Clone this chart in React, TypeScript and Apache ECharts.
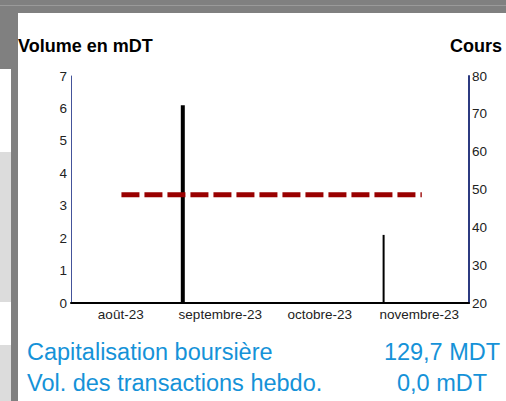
import React, { useEffect, useRef } from "react";
import * as echarts from "echarts";

const monthLabels = ["août-23", "septembre-23", "octobre-23", "novembre-23"];
const volumeDates = ["2023-09-04", "2023-11-05"];
const volumeValues = [6.1, 2.1];
const priceDates = [
  "2023-08-16", "2023-08-23", "2023-08-30", "2023-09-06", "2023-09-13",
  "2023-09-20", "2023-09-27", "2023-10-04", "2023-10-11", "2023-10-18",
  "2023-10-25", "2023-11-01", "2023-11-08", "2023-11-17",
];
const priceValues = [48.6, 48.6, 48.6, 48.6, 48.6, 48.6, 48.6, 48.6, 48.6, 48.6, 48.6, 48.6, 48.6, 48.6];
const leftTitle = "Volume en mDT";
const rightTitle = "Cours";
const infoLabels = ["Capitalisation boursière", "Vol. des transactions hebdo."];
const infoValues = ["129,7 MDT", "0,0 mDT"];

const ts = (d: string) => {
  const [y, m, dd] = d.split("-").map(Number);
  return Date.UTC(y, m - 1, dd);
};

export default function App() {
  const ref = useRef<HTMLDivElement>(null);
  useEffect(() => {
    if (!ref.current) return;
    const chart = echarts.init(ref.current, null, { renderer: "svg" });
    const tMin = Date.UTC(2023, 7, 1);
    const tMax = Date.UTC(2023, 11, 1);
    const hiddenTime = () => ({
      type: "time" as const,
      min: tMin,
      max: tMax,
      show: false,
      gridIndex: 0,
    });
    const blue = "#1592d8";
    const lab = { fontSize: 13.5, color: "#222", fontFamily: "Liberation Sans" };
    const info = "23.5px 'Liberation Sans'";
    chart.setOption({
      animation: false,
      backgroundColor: "#ffffff",
      grid: { left: 71, right: 37, top: 76, bottom: 98 },
      xAxis: [
        {
          type: "category",
          data: monthLabels,
          boundaryGap: true,
          axisLine: { show: true, lineStyle: { color: "#000", width: 2 } },
          axisTick: { show: false },
          axisLabel: { ...lab, margin: 4, interval: 0 },
          splitLine: { show: false },
        },
        hiddenTime(),
        hiddenTime(),
      ],
      yAxis: [
        {
          type: "value",
          min: 0,
          max: 7,
          interval: 1,
          axisLine: { show: true, lineStyle: { color: "#44549a", width: 1 } },
          axisTick: { show: false },
          splitLine: { show: false },
          axisLabel: { ...lab, margin: 4 },
        },
        {
          type: "value",
          position: "right",
          min: 20,
          max: 80,
          interval: 10,
          axisLine: { show: true, lineStyle: { color: "#2c3a80", width: 2 } },
          axisTick: { show: false },
          splitLine: { show: false },
          axisLabel: { ...lab, margin: 3 },
        },
      ],
      series: [
        {
          type: "bar",
          xAxisIndex: 1,
          yAxisIndex: 0,
          barWidth: 4,
          itemStyle: { color: "#000" },
          data: [[ts(volumeDates[0]), volumeValues[0]]],
          z: 2,
        },
        {
          type: "bar",
          xAxisIndex: 2,
          yAxisIndex: 0,
          barWidth: 2,
          itemStyle: { color: "#000" },
          data: [[ts(volumeDates[1]), volumeValues[1]]],
          z: 2,
        },
        {
          type: "line",
          xAxisIndex: 1,
          yAxisIndex: 1,
          symbol: "none",
          lineStyle: { color: "#990000", width: 5, type: [18, 5], cap: "butt" },
          data: priceDates.map((d, i) => [ts(d), priceValues[i]]),
          z: 3,
        },
      ],
      graphic: [
        { type: "rect", z: 0, shape: { x: 0, y: 0, width: 506, height: 13 }, style: { fill: "#808080" } },
        { type: "rect", z: 0, shape: { x: 0, y: 5, width: 506, height: 1 }, style: { fill: "#9a9a9a" } },
        { type: "rect", z: 0, shape: { x: 0, y: 13, width: 18, height: 388 }, style: { fill: "#808080" } },
        { type: "rect", z: 0, shape: { x: 0, y: 69, width: 11, height: 83 }, style: { fill: "#ffffff" } },
        { type: "rect", z: 0, shape: { x: 0, y: 152, width: 11, height: 150 }, style: { fill: "#dcdcdc" } },
        { type: "rect", z: 0, shape: { x: 0, y: 302, width: 11, height: 43 }, style: { fill: "#ffffff" } },
        { type: "rect", z: 0, shape: { x: 0, y: 345, width: 11, height: 56 }, style: { fill: "#dcdcdc" } },
        {
          type: "text", x: 18, y: 46,
          style: { text: leftTitle, font: "bold 18px 'Liberation Sans'", fill: "#000", textAlign: "left", textVerticalAlign: "middle" },
        },
        {
          type: "text", x: 502, y: 46,
          style: { text: rightTitle, font: "bold 18px 'Liberation Sans'", fill: "#000", textAlign: "right", textVerticalAlign: "middle" },
        },
        {
          type: "text", x: 27, y: 352,
          style: { text: infoLabels[0], font: info, fill: blue, textAlign: "left", textVerticalAlign: "middle" },
        },
        {
          type: "text", x: 27, y: 383,
          style: { text: infoLabels[1], font: info, fill: blue, textAlign: "left", textVerticalAlign: "middle" },
        },
        {
          type: "text", x: 442, y: 352,
          style: { text: infoValues[0], font: info, fill: blue, textAlign: "center", textVerticalAlign: "middle" },
        },
        {
          type: "text", x: 442, y: 383,
          style: { text: infoValues[1], font: info, fill: blue, textAlign: "center", textVerticalAlign: "middle" },
        },
      ],
    });
    return () => chart.dispose();
  }, []);
  return (
    <div
      ref={ref}
      style={{ position: "fixed", left: 0, top: 0, width: 506, height: 401 }}
    />
  );
}
